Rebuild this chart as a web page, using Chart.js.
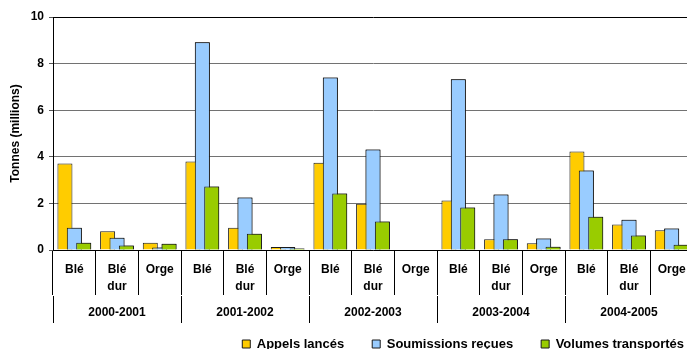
<!DOCTYPE html>
<html>
<head>
<meta charset="utf-8">
<script src="https://cdn.jsdelivr.net/npm/chart.js@4"></script>
<style>
  html, body { margin: 0; padding: 0; background: #fff; overflow: hidden; }
  #wrap { width: 687px; height: 349px; overflow: hidden; position: relative; }
  canvas { display: block; }
</style>
</head>
<body>
<div id="wrap"><canvas id="c" width="712" height="374"></canvas></div>
<script>
// Céréales : appels d'offres par campagne et par produit (millions de tonnes)
const campagnes = ['2000-2001', '2001-2002', '2002-2003', '2003-2004', '2004-2005'];
const produits = ['Blé', ['Blé', 'dur'], 'Orge'];
const categories = campagnes.flatMap(() => produits);

const appelsLances = [3.71, 0.80, 0.31, 3.80, 0.96, 0.13, 3.74, 1.99, 0, 2.12, 0.46, 0.29, 4.23, 1.09, 0.85];
const soumissionsRecues = [0.96, 0.53, 0.11, 8.92, 2.25, 0.13, 7.40, 4.31, 0, 7.33, 2.38, 0.49, 3.41, 1.30, 0.92];
const volumesTransportes = [0.31, 0.19, 0.27, 2.72, 0.70, 0.06, 2.42, 1.22, 0, 1.82, 0.46, 0.14, 1.43, 0.62, 0.23];

const yTicks = [0, 2, 4, 6, 8, 10];

Chart.defaults.font.family = "'Liberation Sans', Arial, sans-serif";
Chart.defaults.font.weight = 'bold';
Chart.defaults.font.size = 12;
Chart.defaults.color = '#000';

// Bars overlap inside each group: later series are painted over earlier ones.
const overlapOrder = {
  id: 'overlapOrder',
  afterDatasetsDraw(chart) {
    [1, 2].forEach(i => {
      const meta = chart.getDatasetMeta(i);
      if (!meta.hidden) meta.controller.draw();
    });
  }
};

// Pull the legend row up closer to the campaign labels.
const legendLift = {
  id: 'legendLift',
  afterLayout(chart) {
    const lg = chart.legend;
    if (lg) { lg.top -= 13.5; lg.bottom -= 13.5; }
  }
};

const barStyle = { borderWidth: 1, borderColor: '#1a1a1a', categoryPercentage: 0.66, barPercentage: 1.6 };

new Chart(document.getElementById('c'), {
  type: 'bar',
  data: {
    labels: categories,
    datasets: [
      { label: 'Appels lancés', data: appelsLances, backgroundColor: '#FFCC00', ...barStyle },
      { label: 'Soumissions reçues', data: soumissionsRecues, backgroundColor: '#99CCFF', ...barStyle },
      { label: 'Volumes transportés', data: volumesTransportes, backgroundColor: '#99CC00', ...barStyle }
    ]
  },
  options: {
    responsive: false,
    animation: false,
    devicePixelRatio: 1,
    layout: { padding: { top: 17, left: 0, right: 0, bottom: 0 } },
    scales: {
      y: {
        position: 'left',
        min: 0,
        max: 10,
        afterBuildTicks: s => { s.ticks = yTicks.map(v => ({ value: v })); },
        afterFit: s => { s.width = 53; },
        ticks: { padding: 5, font: { size: 12, weight: 'bold' } },
        grid: {
          color: c => (c.tick && c.tick.value === 10 ? '#000' : '#727272'),
          tickColor: '#555',
          tickLength: 4,
          lineWidth: 1
        },
        border: { color: '#000', width: 1 },
        title: {
          display: true,
          text: 'Tonnes (millions)',
          font: { size: 12, weight: 'bold' },
          padding: { top: 8, bottom: 0 }
        }
      },
      yR: {
        position: 'right',
        display: true,
        min: 0,
        max: 10,
        afterFit: s => { s.width = 19; },
        grid: { display: false, drawTicks: false },
        ticks: { display: false },
        border: { display: false }
      },
      x: {
        position: 'bottom',
        offset: true,
        afterFit: s => { s.height = 46; },
        grid: { drawOnChartArea: false, tickLength: 45, color: '#000', offset: true },
        border: { color: '#000', width: 1 },
        ticks: {
          autoSkip: false,
          maxRotation: 0,
          minRotation: 0,
          padding: -33,
          font: { size: 12, weight: 'bold', lineHeight: 1.35 }
        }
      },
      x2: {
        type: 'category',
        position: 'bottom',
        labels: campagnes,
        offset: true,
        afterFit: s => { s.height = 27; },
        grid: { drawOnChartArea: false, tickLength: 27, color: '#000', offset: true },
        border: { display: false },
        ticks: {
          autoSkip: false,
          maxRotation: 0,
          minRotation: 0,
          padding: -18,
          font: { size: 12, weight: 'bold', lineHeight: 1.35 }
        }
      }
    },
    plugins: {
      legend: {
        position: 'bottom',
        align: 'end',
        labels: {
          boxWidth: 8,
          boxHeight: 8,
          padding: 28,
          font: { size: 13, weight: 'bold' },
          color: '#000'
        }
      },
      tooltip: { enabled: false }
    }
  },
  plugins: [overlapOrder, legendLift]
});
</script>
</body>
</html>
